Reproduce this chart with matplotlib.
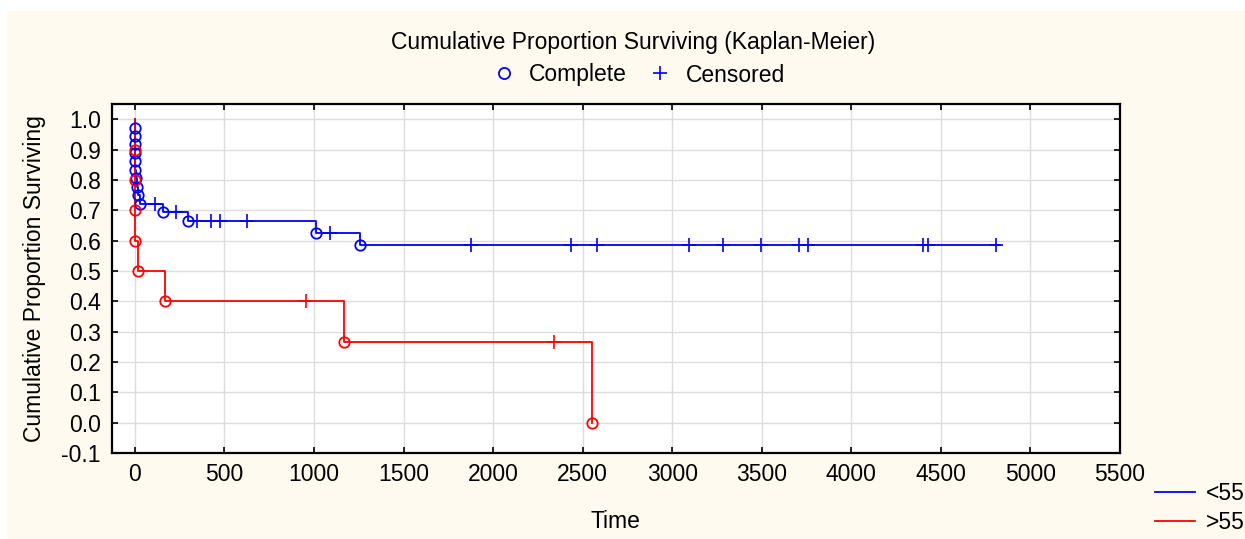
import numpy as np
import matplotlib
matplotlib.use("Agg")
import matplotlib.pyplot as plt
from matplotlib.lines import Line2D
from matplotlib.patches import Rectangle

plt.rcParams["font.family"] = ["Liberation Sans", "DejaVu Sans"]

# <55 group: event times (circles) and survival after each event
blue_event_t = [0, 0, 0, 1, 1, 2, 5, 10, 18, 30, 156, 294, 1013, 1254]
blue_event_s = [0.972, 0.944, 0.917, 0.889, 0.861, 0.833, 0.806, 0.778,
                0.750, 0.722, 0.693, 0.663, 0.626, 0.584]
blue_cens_t = [111, 232, 349, 422, 474, 628, 1091, 1877, 2432, 2579, 3092,
               3284, 3495, 3706, 3760, 4398, 4427, 4810]
blue_end_t = 4830

# >55 group
red_event_t = [0, 0, 1, 2, 18, 167, 1165, 2550]
red_event_s = [0.9, 0.8, 0.7, 0.6, 0.5, 0.4, 0.267, 0.0]
red_cens_t = [957, 2340]
red_end_t = 2550

xticks = np.arange(0, 5501, 500)
yticks = np.round(np.arange(-0.1, 1.01, 0.1), 1)

BLUE = "#0000FF"
RED = "#FF0000"
CREAM = "#FEFAEF"
FS = 16.5

fig = plt.figure(figsize=(12.45, 5.39), dpi=100)
fig.patch.set_facecolor("white")
fig.patches.append(Rectangle((7 / 1245, 0), 1 - 7 / 1245, 1 - 11 / 539,
                             transform=fig.transFigure, facecolor=CREAM,
                             edgecolor="none", zorder=-10))

ax = fig.add_axes([112 / 1245, 86 / 539, 1008 / 1245, 349 / 539])
ax.set_facecolor("white")


def step_value(t, ev_t, ev_s):
    s = 1.0
    for et, es in zip(ev_t, ev_s):
        if et <= t:
            s = es
    return s


def draw_group(ev_t, ev_s, cens_t, end_t, color):
    ts = [0] + list(ev_t) + [end_t]
    ss = [1.0] + list(ev_s) + [ev_s[-1]]
    ax.plot(ts, ss, drawstyle="steps-post", color=color, lw=1.3, zorder=3)
    ax.plot(ev_t, ev_s, "o", mfc="none", mec=color, ms=7.5, mew=1.3, zorder=4)
    cs = [step_value(t, ev_t, ev_s) for t in cens_t]
    ax.plot(cens_t, cs, "+", color=color, ms=10, mew=1.2, zorder=4)


draw_group(blue_event_t, blue_event_s, blue_cens_t, blue_end_t, BLUE)
draw_group(red_event_t, red_event_s, red_cens_t, red_end_t, RED)

ax.set_xlim(-128, 5500)
ax.set_ylim(-0.1, 1.05)
ax.set_xticks(xticks)
ax.set_yticks(yticks)
ax.set_yticklabels([f"{v:.1f}" for v in yticks])
ax.grid(True, color="#DCDCDC", lw=1.0, zorder=0)
ax.set_axisbelow(True)
ax.tick_params(direction="in", length=4, width=1.2, labelsize=FS,
               top=True, right=True, pad=7)
ax.tick_params(axis="y", pad=8)
for sp in ax.spines.values():
    sp.set_linewidth(1.6)
    sp.set_color("black")

fig.text(633 / 1245, 1 - 42 / 539, "Cumulative Proportion Surviving (Kaplan-Meier)",
         ha="center", va="center", fontsize=FS)
fig.text(615 / 1245, 1 - 522 / 539, "Time", ha="center", va="center", fontsize=FS)
fig.text(35 / 1245, 1 - 279 / 539, "Cumulative Proportion Surviving",
         ha="center", va="center", rotation=90, fontsize=FS)

top_handles = [
    Line2D([], [], ls="none", marker="o", mfc="none", mec=BLUE, ms=8, mew=1.3),
    Line2D([], [], ls="none", marker="+", color=BLUE, ms=10, mew=1.2),
]
fig.legend(top_handles, ["Complete", "Censored"], ncol=2, frameon=False,
           loc="center", bbox_to_anchor=(638 / 1245, 1 - 75 / 539),
           fontsize=FS, handlelength=1.1, handletextpad=0.55, columnspacing=0.9,
           borderpad=0, borderaxespad=0)

grp_handles = [Line2D([], [], color=BLUE, lw=1.3),
               Line2D([], [], color=RED, lw=1.3)]
fig.legend(grp_handles, ["<55", ">55"], frameon=False, loc="upper left",
           bbox_to_anchor=(1155 / 1245, 1 - 482 / 539), fontsize=FS,
           handlelength=1.75, handletextpad=0.45, labelspacing=0.28,
           borderaxespad=0, borderpad=0)

fig.savefig("out.png", dpi=100)
